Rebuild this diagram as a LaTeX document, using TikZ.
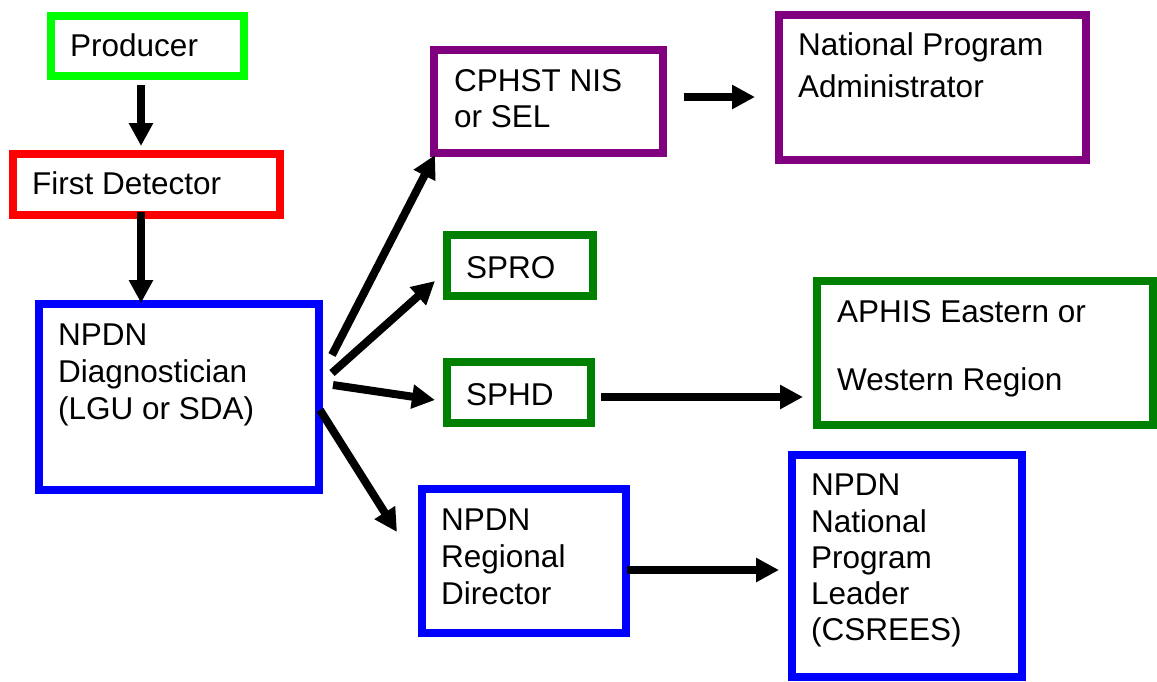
\documentclass[tikz,border=0pt]{standalone}
\usepackage{fontspec}
\setmainfont{Liberation Sans}
\usetikzlibrary{arrows.meta,calc}
\definecolor{cLime}{RGB}{0,255,0}
\definecolor{cRed}{RGB}{255,0,0}
\definecolor{cBlue}{RGB}{0,0,255}
\definecolor{cPurple}{RGB}{128,0,128}
\definecolor{cGreen}{RGB}{0,128,0}
\tikzset{
  box/.style={draw=#1, line width=8pt, rectangle, inner sep=0pt, fill=white},
  txt/.style={anchor=base west, inner sep=0pt, font=\fontsize{31.5}{36}\selectfont},
  arr/.style={line width=8pt, line cap=butt, -{Triangle[length=23pt,width=23pt]}},
}
\begin{document}
\begin{tikzpicture}[x=1pt,y=-1pt]
\useasboundingbox (0,0) rectangle (1157,681);
% boxes
\node[box=cLime, minimum width=193pt, minimum height=60pt] (producer) at (147.5,46) {};
\node[box=cRed, minimum width=267pt, minimum height=61pt] (fd) at (146.5,184.5) {};
\node[box=cBlue, minimum width=280pt, minimum height=186pt] (diag) at (179,397) {};
\node[box=cPurple, minimum width=229pt, minimum height=103pt] (cphst) at (548.5,101.5) {};
\node[box=cPurple, minimum width=307pt, minimum height=145pt] (npa) at (932.5,87.5) {};
\node[box=cGreen, minimum width=146pt, minimum height=61pt] (spro) at (520,265.5) {};
\node[box=cGreen, minimum width=144pt, minimum height=61pt] (sphd) at (519,392.5) {};
\node[box=cGreen, minimum width=336pt, minimum height=144pt] (aphis) at (985,353) {};
\node[box=cBlue, minimum width=204pt, minimum height=144pt] (regional) at (524,561) {};
\node[box=cBlue, minimum width=230pt, minimum height=222pt] (national) at (907,566) {};
% texts
\node[txt] (tProducer) at (70,56) {Producer};
\node[txt] (tFd) at (32,194) {First Detector};
\node[txt] (tDiag1) at (58,345) {NPDN};
\node[txt] (tDiag2) at (58,382) {Diagnostician};
\node[txt] (tDiag3) at (58,419) {(LGU or SDA)};
\node[txt] (tCphst1) at (454,91) {CPHST NIS};
\node[txt] (tCphst2) at (454,127) {or SEL};
\node[txt] (tNpa1) at (798,55) {National Program};
\node[txt] (tNpa2) at (798,97) {Administrator};
\node[txt] (tSpro) at (466,278) {SPRO};
\node[txt] (tSphd) at (466,405) {SPHD};
\node[txt] (tAphis1) at (837,322) {APHIS Eastern or};
\node[txt] (tAphis2) at (837,390) {Western Region};
\node[txt] (tReg1) at (441,530) {NPDN};
\node[txt] (tReg2) at (441,567) {Regional};
\node[txt] (tReg3) at (441,604) {Director};
\node[txt] (tNat1) at (811,495) {NPDN};
\node[txt] (tNat2) at (811,532) {National};
\node[txt] (tNat3) at (811,568) {Program};
\node[txt] (tNat4) at (811,604) {Leader};
\node[txt] (tNat5) at (811,640) {(CSREES)};
% connectors
\draw[arr] ($(producer.south)+(-6.5,5)$) -- ($(fd.north)+(-5.5,-4)$);
\draw[arr] ($(fd.south)+(-5.5,-7)$) -- ($(diag.north)+(-38,3)$);
\draw[arr] ($(diag.east)+(9,-42)$) -- ($(cphst.south west)+(5,-2)$);
\draw[arr] ($(diag.east)+(9,-24)$) -- ($(spro.west)+(-8,15.5)$);
\draw[arr] ($(diag.east)+(10,-12)$) -- ($(sphd.west)+(-8,7.5)$);
\draw[arr] ($(diag.east)+(-3,13)$) -- ($(regional.north west)+(-21,47)$);
\draw[arr] ($(cphst.east)+(17,-4.5)$) -- ($(npa.west)+(-20,9.5)$);
\draw[arr] ($(sphd.east)+(6,4.5)$) -- ($(aphis.west)+(-10,44)$);
\draw[arr] ($(regional.east)+(-3,9)$) -- ($(national.west)+(-9,4)$);
\end{tikzpicture}
\end{document}
